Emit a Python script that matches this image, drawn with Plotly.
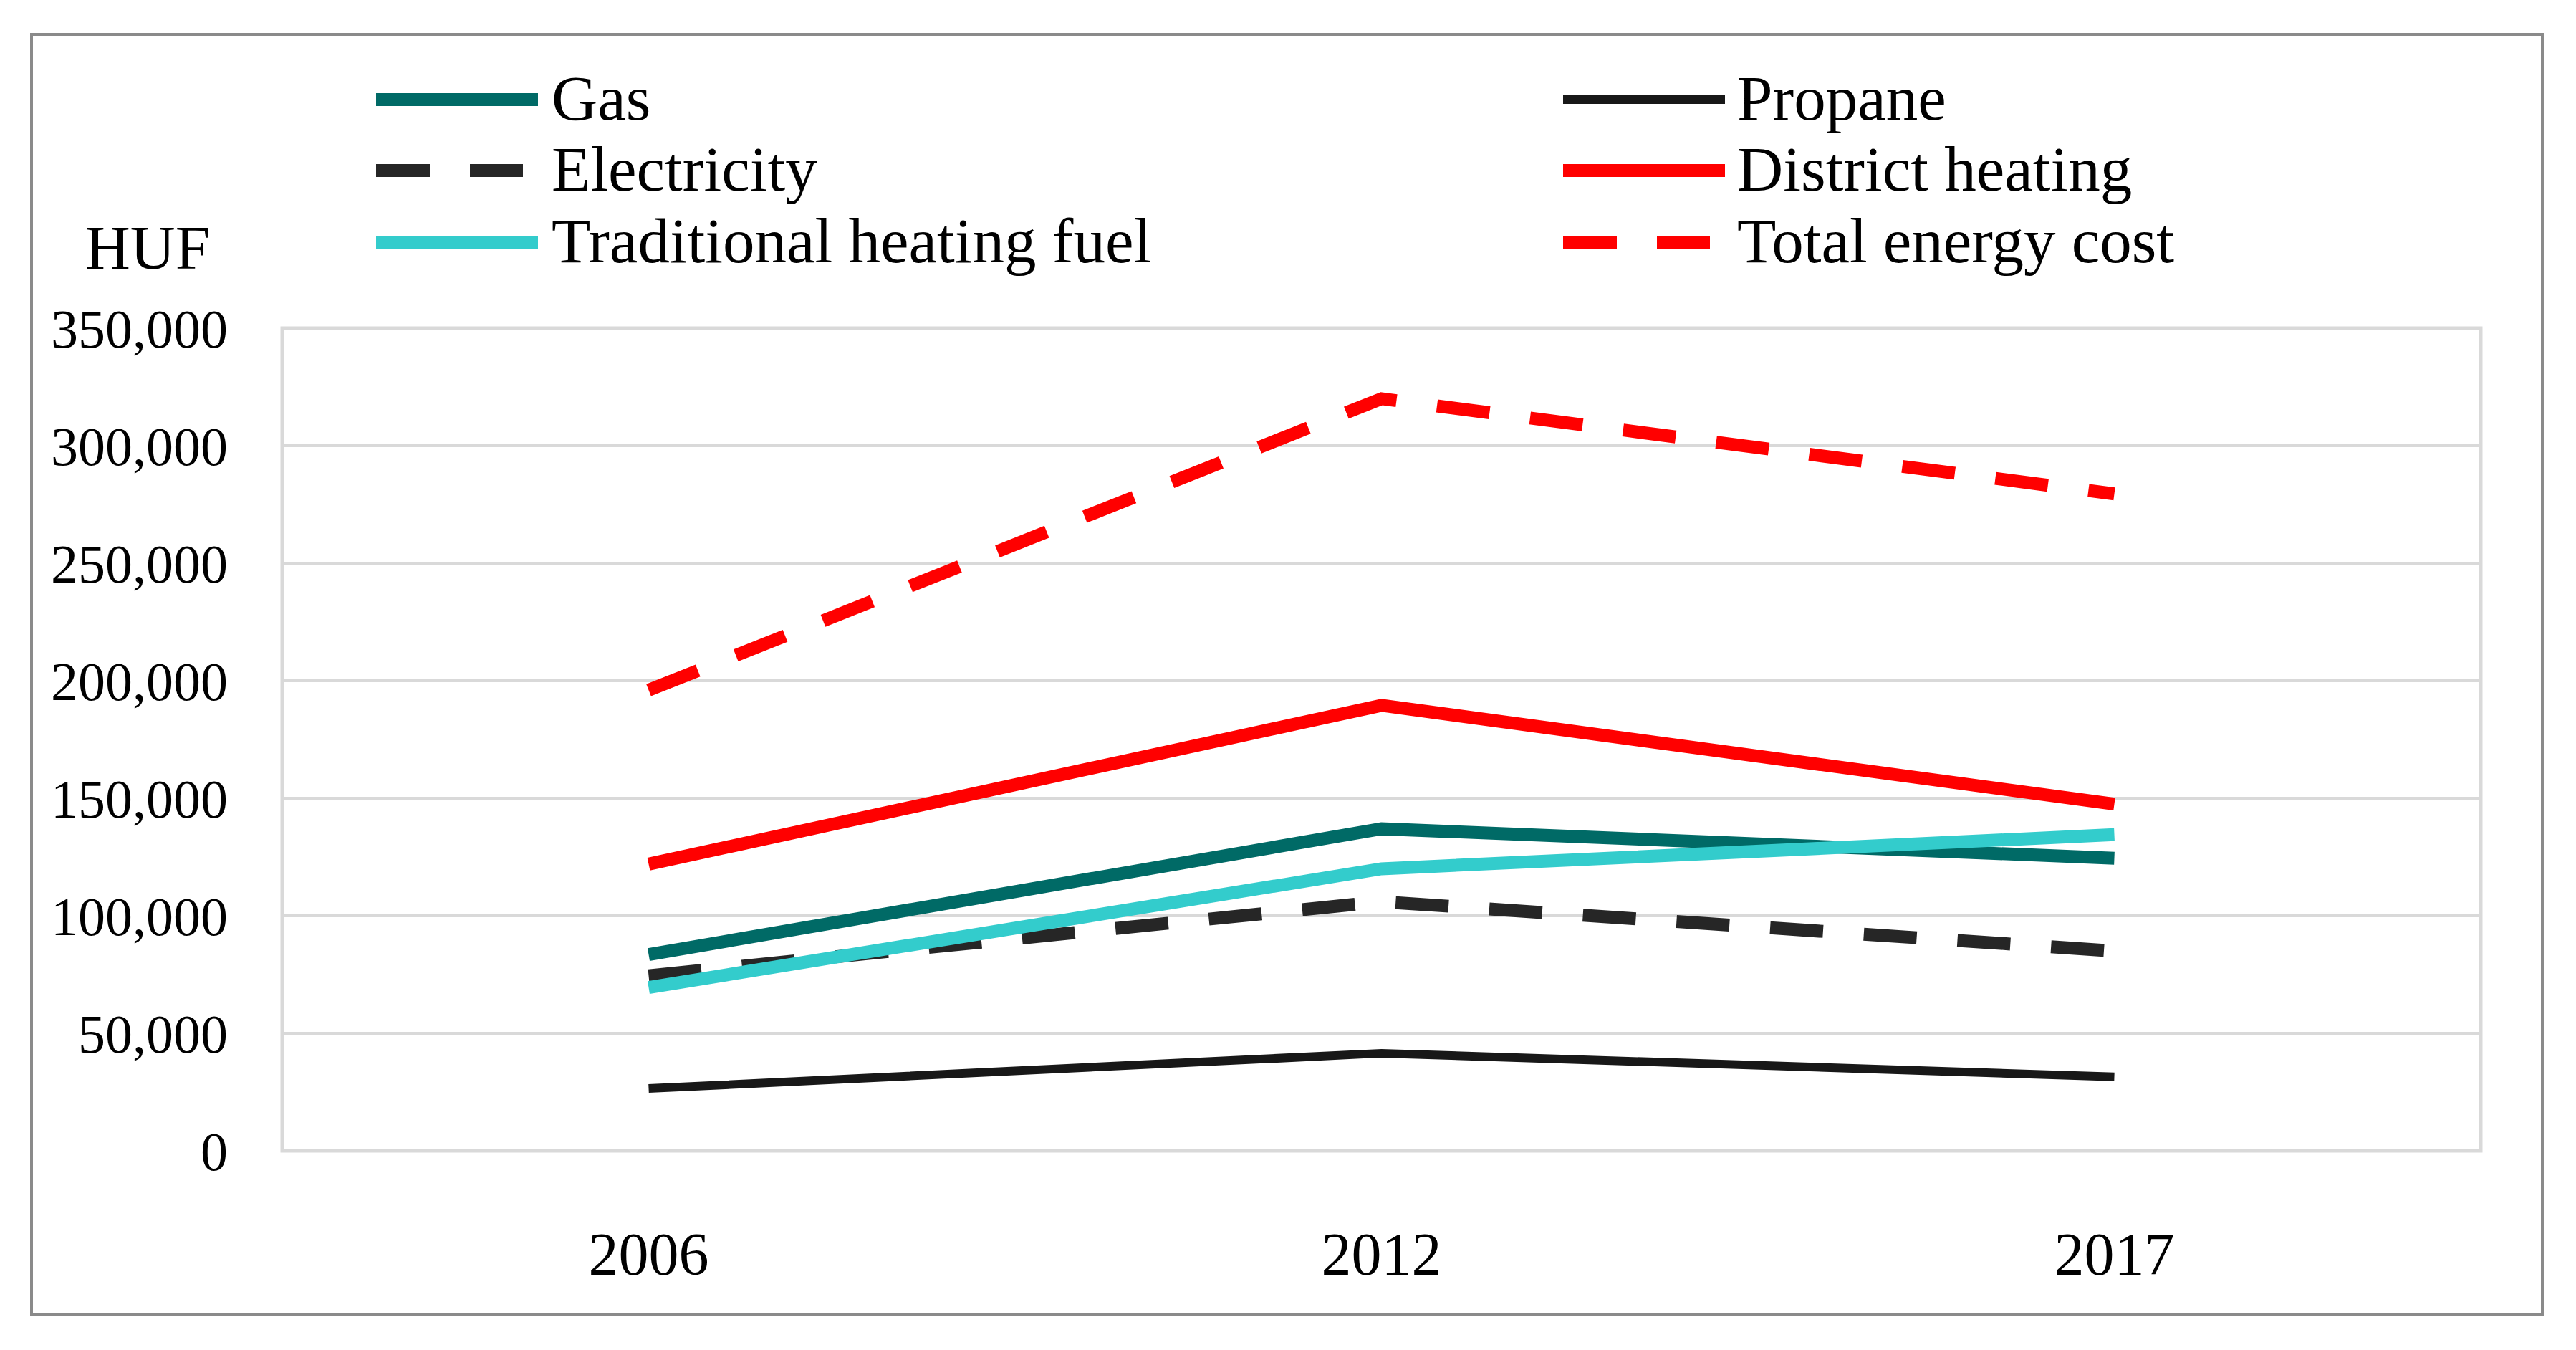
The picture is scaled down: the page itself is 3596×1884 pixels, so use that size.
import plotly.graph_objects as go

# ---------------- data ----------------
years = ["2006", "2012", "2017"]
series_names = ["Gas", "Propane", "Electricity", "District heating",
                "Traditional heating fuel", "Total energy cost"]
gas = [83500, 137000, 124500]
propane = [26500, 41500, 31500]
electricity = [74500, 106000, 85000]
district_heating = [122000, 189500, 147500]
traditional_fuel = [69500, 120000, 134500]
total_energy = [196000, 320000, 279500]
y_ticks = [0, 50000, 100000, 150000, 200000, 250000, 300000, 350000]
y_unit = "HUF"

values = [gas, propane, electricity, district_heating, traditional_fuel, total_energy]

# ---------------- styles ----------------
DASH = "74px,57px"
styles = [
    dict(color="#006A66", width=18, dash="solid"),
    dict(color="#181818", width=12, dash="solid"),
    dict(color="#262626", width=18, dash=DASH),
    dict(color="#FF0000", width=18, dash="solid"),
    dict(color="#33CCCC", width=18, dash="solid"),
    dict(color="#FF0000", width=18, dash=DASH),
]

W_PX, H_PX = 3596, 1884
L, R, T, B = 394, 3463, 458, 1606
PW, PH = R - L, B - T


def px(X):
    return (X - L) / PW


def py(Y):
    return (B - Y) / PH


FONT = "Liberation Serif"

fig = go.Figure()
# draw in an order so that overlaps look similar (electricity under traditional)
draw_order = [5, 3, 0, 2, 4, 1]
for i in draw_order:
    st = styles[i]
    fig.add_trace(go.Scatter(
        x=years, y=values[i], name=series_names[i], mode="lines",
        line=dict(color=st["color"], width=st["width"], dash=st["dash"]),
        showlegend=False,
    ))

shapes = []
annotations = []
# plot-area border
shapes.append(dict(type="rect", xref="paper", yref="paper", x0=0, x1=1, y0=0, y1=1,
                   line=dict(color="#D9D9D9", width=5), layer="below"))
# outer chart frame
shapes.append(dict(type="rect", xref="paper", yref="paper",
                   x0=px(44), x1=px(3549), y0=py(1834), y1=py(48),
                   line=dict(color="#8A8A8A", width=4), layer="below"))

# legend (2 columns x 3 rows)
col_line_start = [525, 2182]
col_text_start = [768, 2423]
row_y = [139, 238, 338]
for k, name in enumerate(series_names):
    col = k % 2
    row = k // 2
    st = styles[k]
    x0 = col_line_start[col]
    x1 = x0 + (205 if st["dash"] != "solid" else 226)
    shapes.append(dict(type="line", xref="paper", yref="paper",
                       x0=px(x0), x1=px(x1), y0=py(row_y[row]), y1=py(row_y[row]),
                       line=dict(color=st["color"], width=st["width"],
                                 dash=("75px,56px" if st["dash"] != "solid" else "solid"))))
    annotations.append(dict(xref="paper", yref="paper", x=px(col_text_start[col]),
                            y=py(row_y[row] - 2), text=name, showarrow=False,
                            xanchor="left", yanchor="middle",
                            font=dict(family=FONT, size=89, color="black")))

# unit label
annotations.append(dict(xref="paper", yref="paper", x=px(117), y=py(345), text=y_unit,
                        showarrow=False, xanchor="left", yanchor="middle",
                        font=dict(family=FONT, size=87, color="black")))

fig.update_layout(
    width=W_PX, height=H_PX,
    margin=dict(l=L, r=W_PX - R, t=T, b=H_PX - B, pad=0),
    paper_bgcolor="white", plot_bgcolor="white",
    showlegend=False,
    shapes=shapes, annotations=annotations,
    font=dict(family=FONT, color="black"),
)
fig.update_xaxes(
    type="category", range=[-0.5, 2.5], showgrid=False, showline=False,
    zeroline=False, ticks="", tickfont=dict(family=FONT, size=84, color="black"),
    ticklabelstandoff=88,
)
fig.update_yaxes(
    range=[0, 350000], tickvals=y_ticks, tickformat=",d", showgrid=True,
    gridcolor="#D9D9D9", gridwidth=3.5, zeroline=False, showline=False, ticks="",
    tickfont=dict(family=FONT, size=76, color="black"), ticklabelstandoff=75,
)

fig.write_html("out.html", config={"displayModeBar": False},
               post_script="document.body.style.margin='0';document.body.style.overflow='hidden';")
